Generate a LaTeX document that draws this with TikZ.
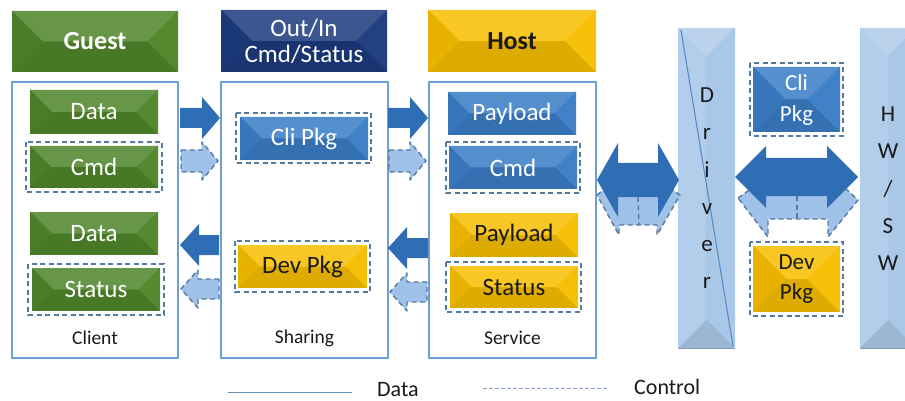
\documentclass[tikz,border=0pt]{standalone}
\usepackage{fontspec}
\setmainfont{Carlito}
\definecolor{grn}{HTML}{4F852A}
\definecolor{nvy}{HTML}{1C3A7E}
\definecolor{ylw}{HTML}{F7BE00}
\definecolor{blu}{HTML}{3A7DC6}
\definecolor{lbl}{HTML}{A9C7E7}
\definecolor{framec}{HTML}{6E9FD3}
\definecolor{ctrlc}{HTML}{5679A0}
\definecolor{darr}{HTML}{2F6EB5}
\definecolor{larr}{HTML}{A0C2E8}
\definecolor{ink}{HTML}{1A1A1A}

% bevelled box: [text options]{name}{x1}{y1}{x2}{y2}{colour}{text}
\newcommand\bvbox[8][]{%
  \pgfmathsetmacro\bvd{min(#6-#4,#5-#3)/2}%
  \fill[#7!90!black] (#3,#4) rectangle (#5,#6);
  \fill[#7!86!white] (#3,#4) -- (#5,#4) -- ({#5-\bvd},{#4+\bvd}) -- ({#3+\bvd},{#4+\bvd}) -- cycle;
  \fill[#7!94!black] (#3,#4) -- ({#3+\bvd},{#4+\bvd}) -- ({#3+\bvd},{#6-\bvd}) -- (#3,#6) -- cycle;
  \fill[#7!97!white] (#5,#4) -- ({#5-\bvd},{#4+\bvd}) -- ({#5-\bvd},{#6-\bvd}) -- (#5,#6) -- cycle;
  \node[inner sep=0pt, minimum width={#5-#3}, minimum height={#6-#4}, align=center, #1]
    (#2) at ({(#3+#5)/2},{(#4+#6)/2}) {#8};}

% tall light column: {name}{x1}{y1}{x2}{y2}
\newcommand\colbox[5]{%
  \pgfmathsetmacro\bvd{(#4-#2)/2}%
  \fill[lbl!92!black] (#2,#3) rectangle (#4,#5);
  \fill[lbl!80!white] (#2,#3) -- (#4,#3) -- ({#4-\bvd},{#3+\bvd}) -- cycle;
  \fill[lbl!88!white] (#2,#3) -- ({#2+\bvd},{#3+\bvd}) -- ({#2+\bvd},{#5-\bvd}) -- (#2,#5) -- cycle;
  \fill[lbl] (#4,#3) -- ({#4-\bvd},{#3+\bvd}) -- ({#4-\bvd},{#5-\bvd}) -- (#4,#5) -- cycle;
  \draw[lbl!80!black, line width=1pt] (#2,{#5+0.5}) -- (#4,{#5+0.5});
  \node[inner sep=0pt, minimum width={#4-#2}, minimum height={#5-#3}]
    (#1) at ({(#2+#4)/2},{(#3+#5)/2}) {};}

% straight block arrow: {style}{x tail}{x tip}{y}{bar half}{head half}{head length}
\newcommand\harrow[7]{%
  \pgfmathsetmacro\hbx{#3-#7*sign(#3-#2)}%
  \path[#1] (#2,{#4-#5}) -- (\hbx,{#4-#5}) -- (\hbx,{#4-#6}) -- (#3,#4)
    -- (\hbx,{#4+#6}) -- (\hbx,{#4+#5}) -- (#2,{#4+#5}) -- cycle;}

% two-headed block arrow: {style}{x left tip}{x right tip}{y}{bar half}{head half}{head length}
\newcommand\darrow[7]{%
  \path[#1] (#2,#4) -- ({#2+#7},{#4-#6}) -- ({#2+#7},{#4-#5}) -- ({#3-#7},{#4-#5})
    -- ({#3-#7},{#4-#6}) -- (#3,#4) -- ({#3-#7},{#4+#6}) -- ({#3-#7},{#4+#5})
    -- ({#2+#7},{#4+#5}) -- ({#2+#7},{#4+#6}) -- cycle;}

\begin{document}
\begin{tikzpicture}[x=1pt,y=-1pt,
  container/.style={draw=framec, line width=1.6pt, fill=white, inner sep=0pt},
  ctrl/.style={draw=ctrlc, line width=1.5pt, dash pattern=on 5pt off 3.5pt},
  darkarr/.style={fill=darr},
  lightarr/.style={fill=larr, draw=ctrlc, line width=1.4pt, dash pattern=on 5pt off 3.5pt, line join=round},
  wtxt/.style={text=white, font=\fontsize{25}{30}\selectfont},
  btxt/.style={text=ink, font=\fontsize{25}{30}\selectfont},
  lbltxt/.style={text=ink, font=\fontsize{19.5}{22}\selectfont},
  coltxt/.style={text=ink, font=\fontsize{23}{24}\selectfont, anchor=base, inner sep=0pt},
]
\useasboundingbox (0,0) rectangle (905,401);
\clip (0,0) rectangle (905,401);

% ---- headers ----
\bvbox[text=white, font=\bfseries\fontsize{26}{30}\selectfont]{guest}{12}{11}{178}{72}{grn}{Guest}
\bvbox[text=white, font=\fontsize{25}{27}\selectfont]{outin}{221}{10}{387}{72}{nvy}{Out/In\\[-1pt]Cmd/Status}
\bvbox[text=ink, font=\bfseries\fontsize{26}{30}\selectfont]{host}{428}{10}{596}{72}{ylw}{Host}

% ---- containers ----
\node[container, minimum width=166pt, minimum height=276pt] (client) at (95,220) {};
\node[container, minimum width=167pt, minimum height=276pt] (sharing) at (304.5,220) {};
\node[container, minimum width=167pt, minimum height=276pt] (service) at (512.5,220) {};
\node[lbltxt] (clientlbl) at (95,338) {Client};
\node[lbltxt] (sharinglbl) at (304.5,338) {Sharing};
\node[lbltxt] (servicelbl) at (512.5,338) {Service};

% ---- client side ----
\bvbox[wtxt]{cdata}{30}{90}{158}{134}{grn}{Data}
\draw[ctrl] (26,142) rectangle (162,192);
\bvbox[wtxt]{ccmd}{30}{146}{158}{188}{grn}{Cmd}
\bvbox[wtxt]{cdata2}{30}{212}{158}{255}{grn}{Data}
\draw[ctrl] (28,264) rectangle (164,315);
\bvbox[wtxt]{cstatus}{32}{268}{160}{311}{grn}{Status}

% ---- sharing ----
\draw[ctrl] (236,113) rectangle (371,163);
\bvbox[wtxt]{clipkg}{240}{117}{368}{160}{blu}{Cli Pkg}
\draw[ctrl] (235,241) rectangle (370,292);
\bvbox[btxt]{devpkg}{238}{245}{367}{288}{ylw}{Dev Pkg}

% ---- service ----
\bvbox[wtxt]{spay}{448}{92}{576}{135}{blu}{Payload}
\draw[ctrl] (446,142) rectangle (580,193);
\bvbox[wtxt]{scmd}{449}{146}{577}{189}{blu}{Cmd}
\bvbox[btxt]{spay2}{450}{213}{578}{257}{ylw}{Payload}
\draw[ctrl] (446,262) rectangle (581,312);
\bvbox[btxt]{sstatus}{450}{266}{578}{308}{ylw}{Status}

% ---- arrows between columns ----
\harrow{darkarr}{180}{220}{118}{10}{21}{18}
\harrow{lightarr}{181}{218}{161}{11}{19}{16}
\harrow{darkarr}{219}{180}{245}{10}{21}{19}
\harrow{lightarr}{219}{181}{289}{10}{19}{17}
\harrow{darkarr}{388}{428}{118}{10}{21}{18}
\harrow{lightarr}{389}{426}{161}{11}{19}{16}
\harrow{darkarr}{428}{388}{248}{10}{21}{19}
\harrow{lightarr}{427}{390}{292}{10}{19}{17}

% ---- driver and hardware/software columns ----
\colbox{driver}{678}{28}{735}{348}
\draw[draw=darr!80!white, line width=1.1pt] (681,30) -- (733,346);
\foreach \ch [count=\k from 0] in {D,r,i,v,e,r}
  \node[coltxt] (drv\k) at (707,{103+37*\k}) {\ch};
\colbox{hwsw}{860}{28}{916}{348}
\foreach \ch [count=\k from 0] in {H,W,/,S,W}
  \node[coltxt] (hw\k) at (888,{122+37*\k}) {\ch};

% ---- host <-> driver ----
\path[lightarr] (597,195) -- (610,185) -- (665,185) -- (680,195) -- (657,235)
  -- (657,225) -- (619,225) -- (619,235) -- cycle;
\darrow{darkarr}{597}{679}{180}{17}{37}{21}
\draw[ctrlc, line width=1.4pt, dash pattern=on 5pt off 3.5pt] (638,197) -- (639,225);

% ---- driver <-> hardware/software ----
\path[lightarr] (738,198) -- (752,188) -- (845,188) -- (858,200) -- (828,237)
  -- (828,219) -- (768,219) -- (768,237) -- cycle;
\darrow{darkarr}{735}{858}{177}{19}{31}{31}
\draw[ctrlc, line width=1.4pt, dash pattern=on 5pt off 3.5pt] (797,196) -- (797,219);

\draw[ctrl] (750,63) rectangle (843,136);
\bvbox[text=white, font=\fontsize{23}{31}\selectfont]{clipkg2}{753}{67}{840}{132}{blu}{Cli\\Pkg}
\draw[ctrl] (750,242) rectangle (843,316);
\bvbox[text=ink, font=\fontsize{23}{30}\selectfont]{devpkg2}{753}{246}{840}{312}{ylw}{Dev\\Pkg}

% ---- legend ----
\coordinate (ld1) at (228,392);
\coordinate (ld2) at (352,392);
\draw[draw=framec!90!black, line width=1pt] (ld1) -- (ld2);
\node[anchor=west, text=ink, font=\fontsize{22}{24}\selectfont, inner sep=0pt] (ldata) at (377,389.5) {Data};
\coordinate (lc1) at (483,388);
\coordinate (lc2) at (608,388);
\draw[draw=ctrlc!70!white, line width=1pt, dash pattern=on 3.5pt off 2.5pt] (lc1) -- (lc2);
\node[anchor=west, text=ink, font=\fontsize{22}{24}\selectfont, inner sep=0pt] (lctrl) at (634,386.5) {Control};
\end{tikzpicture}
\end{document}
